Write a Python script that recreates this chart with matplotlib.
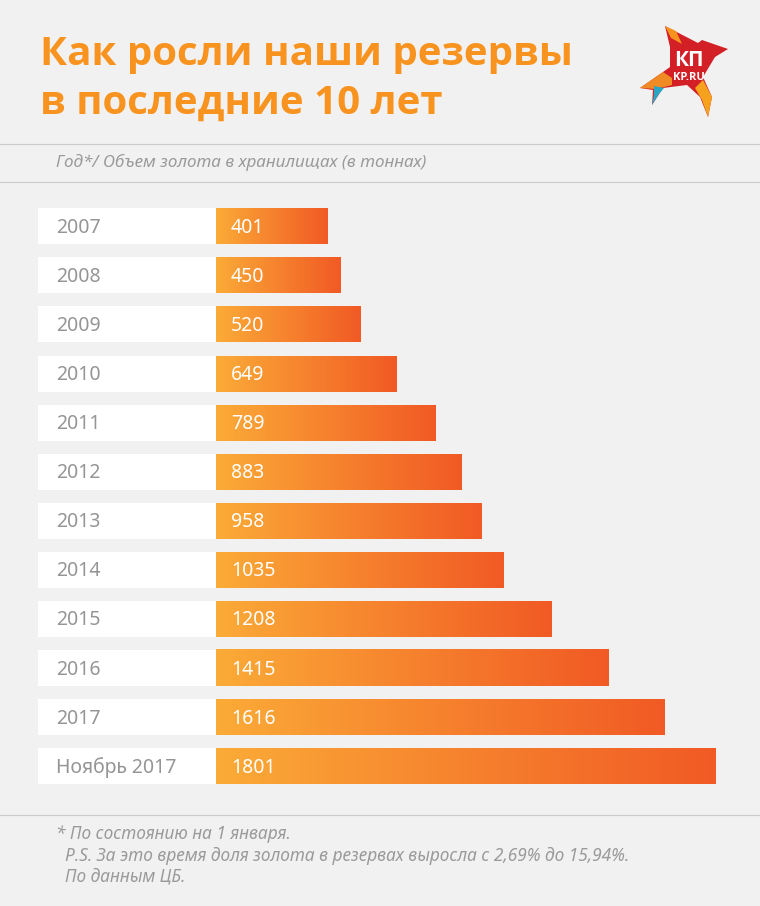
import numpy as np
import matplotlib
matplotlib.use("Agg")
import matplotlib.pyplot as plt
from matplotlib.colors import LinearSegmentedColormap
from matplotlib.patches import Polygon

years = ["2007", "2008", "2009", "2010", "2011", "2012", "2013", "2014", "2015", "2016", "2017", "Ноябрь 2017"]
tonnes = [401, 450, 520, 649, 789, 883, 958, 1035, 1208, 1415, 1616, 1801]
title_lines = ["Как росли наши резервы", "в последние 10 лет"]
subtitle = "Год*/ Объем золота в хранилищах (в тоннах)"
notes = ["* По состоянию на 1 января.", "  P.S. За это время доля золота в резервах выросла с 2,69% до 15,94%.", "  По данным ЦБ."]

W, H = 760, 906
BG = "#f1f1f1"
plt.rcParams['font.family'] = ['Noto Sans', 'DejaVu Sans']
fig = plt.figure(figsize=(W/100, H/100), dpi=100, facecolor=BG)

px_per_t = 500/1801
px0, row0, row_step = 216, 226.3, 49.09
ax = fig.add_axes([0, 0, 1, 1], facecolor=BG)
ax.axis("off")

cmap = LinearSegmentedColormap.from_list("g", ["#fbab37", "#f6822e", "#f15a24"])
grad = np.linspace(0, 1, 256).reshape(1, -1)
bar_h = 36/row_step
label_w = 178/px_per_t
ax.barh(range(len(years)), [label_w]*len(years), left=-label_w, height=bar_h, color="white", linewidth=0, zorder=1)
bars = ax.barh(range(len(years)), tonnes, height=bar_h, color="none", linewidth=0, zorder=2)
for b in bars:
    ax.imshow(grad, cmap=cmap, aspect="auto", zorder=2, interpolation="bilinear",
              extent=(b.get_x(), b.get_x()+b.get_width(), b.get_y()+b.get_height(), b.get_y()))
ax.set_xlim(-px0/px_per_t, (W-px0)/px_per_t)
ax.set_ylim((H-row0)/row_step, -row0/row_step)

for i, (y, v) in enumerate(zip(years, tonnes)):
    ax.text(-159.5/px_per_t, i+0.03, y, color="#959595", fontsize=14, va="center", ha="left", zorder=3)
    ax.text(15/px_per_t, i+0.03, str(v), color="white", fontsize=14, va="center", ha="left", zorder=3)

ov = fig.add_axes([0, 0, 1, 1], facecolor="none")
ov.set_xlim(0, W); ov.set_ylim(H, 0); ov.axis("off")
for yy in (144, 181.5, 815):
    ov.plot([0, W], [yy, yy], color="#cbcbcb", lw=0.8)

TF = ['Open Sans', 'DejaVu Sans']
ov.text(40, 55, title_lines[0], color="#f7931e", fontsize=29, fontweight="bold", family=TF, va="center", ha="left")
ov.text(40, 103, title_lines[1], color="#f7931e", fontsize=29, fontweight="bold", family=TF, va="center", ha="left")
ov.text(56, 162, subtitle, color="#9a9a9a", fontsize=12.3, style="italic", va="center", ha="left")
for yy, t in zip((834, 856, 876), notes):
    ov.text(56, yy, t, color="#9a9a9a", fontsize=12.45, style="italic", va="center", ha="left")

# logo
star = [(665,26),(698,43),(702,40),(728,49),(715,57),(703,77),(712,97),(708,117),(700,97),(687,85),(663,88),(652,105),(653,90),(640,88),(663,72),(670,67),(670,47)]
ov.add_patch(Polygon(star, closed=True, fc="#d32027", ec="none"))
ov.add_patch(Polygon([(665,26),(676,31),(682,44),(671,38)], fc="#f7931e", ec="none"))
ov.add_patch(Polygon([(640,88),(663,72),(672,78),(672,85),(656,89)], fc="#f08a24", ec="none"))
ov.add_patch(Polygon([(695,88),(703,80),(712,97),(708,117),(702,100)], fc="#f7a21e", ec="none"))
ov.add_patch(Polygon([(654,86),(664,88),(659,94),(652,105),(654,94)], fc="#2aa6c4", ec="none"))
ov.text(689, 60, "КП", color="white", fontsize=15, fontweight="bold", family=TF, va="center", ha="center")
ov.text(689, 78, "KP.RU", color="white", fontsize=8, fontweight="bold", family=TF, va="center", ha="center")

fig.savefig("out.png", dpi=100, facecolor=BG)
